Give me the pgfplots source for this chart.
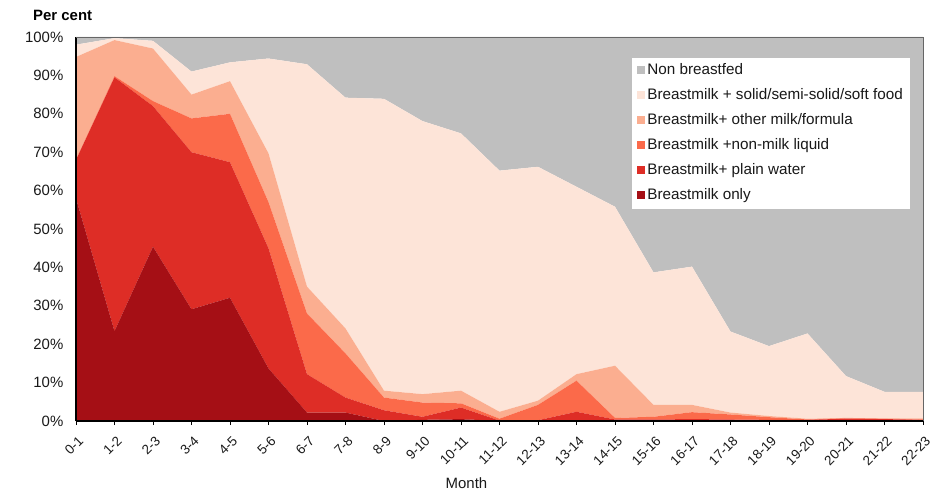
\documentclass[border=0pt]{standalone}
\usepackage{pgfplots}
\pgfplotsset{compat=1.18}
\usepackage{pgfplotstable}
\usepackage{fontspec}
\setmainfont{Liberation Sans}
\definecolor{cNB}{HTML}{BFBFBF}
\definecolor{cSolid}{HTML}{FDE4D8}
\definecolor{cOther}{HTML}{FBAE90}
\definecolor{cNon}{HTML}{FB6A4A}
\definecolor{cWater}{HTML}{DE2D26}
\definecolor{cOnly}{HTML}{A50F15}
\pgfplotstableread{
x o w n m s nb
0 58 10 0 26.8 3.2 2
1 23.4 66.1 0.3 9.4 0.5 0.3
2 45.4 36.6 1.3 13.7 2.0 1.0
3 29.1 40.9 8.8 6.2 6.0 9.0
4 32.1 35.3 12.6 8.5 4.9 6.6
5 13.7 31.3 12.0 12.7 24.7 5.6
6 2.2 10.0 15.8 7.0 57.9 7.1
7 2.2 3.9 11.5 6.5 60.1 15.8
8 0 2.8 3.3 1.8 76.0 16.1
9 0.3 0.8 3.7 2.2 71.1 21.9
10 0.5 3.0 1.1 3.3 67.0 25.1
11 0 0.1 0.5 1.8 62.8 34.8
12 0 0.2 4.0 1.1 60.9 33.8
13 0.2 2.2 8.1 1.7 48.8 39.0
14 0 0.4 0.4 13.6 41.4 44.2
15 0 0.4 0.7 3.1 34.5 61.3
16 0 0.5 1.8 1.9 36.0 59.8
17 0 0.4 1.3 0.5 21.1 76.7
18 0 0.3 0.7 0.3 18.2 80.5
19 0 0.3 0.1 0.2 22.2 77.2
20 0.1 0.5 0.1 0.1 10.9 88.3
21 0.1 0.4 0.1 0.1 6.9 92.4
22 0 0.3 0.1 0.3 6.9 92.4
}\datatable
\begin{document}
\begin{tikzpicture}
\path[use as bounding box] (-76bp,-70bp) rectangle (862bp,421bp);
\begin{axis}[
  at={(0,0)}, anchor=south west,
  scale only axis, width=847bp, height=384bp,
  xmin=0, xmax=22, ymin=0, ymax=100,
  stack plots=y,
  axis x line*=bottom, axis y line*=left,
  axis line style={black, line width=1.5bp, -},
  xtick={0,...,22},
  xticklabels={0-1,1-2,2-3,3-4,4-5,5-6,6-7,7-8,8-9,9-10,10-11,11-12,12-13,13-14,14-15,15-16,16-17,17-18,18-19,19-20,20-21,21-22,22-23},
  ytick={0,10,...,100},
  yticklabels={0\%,10\%,20\%,30\%,40\%,50\%,60\%,70\%,80\%,90\%,100\%},
  tick align=outside, major tick length=4bp,
  xtick style={black, line width=0.8bp},
  ytick style={draw=none},
  tick label style={font=\fontsize{15}{17}\selectfont, text=black!90},
  xticklabel style={font=\fontsize{13.5}{15}\selectfont, xshift=5bp, yshift=-13.5bp, rotate=45, anchor=east, inner sep=0pt},
  yticklabel style={anchor=east, inner sep=0pt, xshift=-8.5bp},
  xlabel={Month},
  xlabel style={font=\fontsize{15}{17}\selectfont, text=black!90, at={(axis description cs:0.461,0)}, anchor=center, yshift=-62bp},
  ylabel={Per cent},
  ylabel style={font=\fontsize{15}{17}\selectfont\bfseries, rotate=-90, at={(axis description cs:0,1)}, anchor=west, inner sep=0pt, xshift=-43bp, yshift=22bp},
  axis on top,
  reverse legend,
  legend image code/.code={\fill[#1] (0bp,-3bp) rectangle (8bp,5bp);},
  legend cell align=left,
  legend style={at={(rel axis cs:0.9847,0.9453)}, anchor=north east, draw=none, fill=white,
    font=\fontsize{15.3}{17}\selectfont, text=black!90,
    inner xsep=5bp, inner ysep=5.75bp, row sep=10.5bp,
    nodes={text height=11bp, text depth=3.5bp, inner ysep=0bp, inner xsep=2bp}},
]
\addplot[fill=cOnly, draw=none] table[x=x,y=o]{\datatable} \closedcycle;
\addlegendentry{Breastmilk only}
\addplot[fill=cWater, draw=none] table[x=x,y=w]{\datatable} \closedcycle;
\addlegendentry{Breastmilk+ plain water}
\addplot[fill=cNon, draw=none] table[x=x,y=n]{\datatable} \closedcycle;
\addlegendentry{Breastmilk +non-milk liquid}
\addplot[fill=cOther, draw=none] table[x=x,y=m]{\datatable} \closedcycle;
\addlegendentry{Breastmilk+ other milk/formula}
\addplot[fill=cSolid, draw=none] table[x=x,y=s]{\datatable} \closedcycle;
\addlegendentry{Breastmilk + solid/semi-solid/soft food}
\addplot[fill=cNB, draw=none] table[x=x,y=nb]{\datatable} \closedcycle;
\addlegendentry{Non breastfed}
\end{axis}
\draw[black!60, line width=0.8bp] (0bp,384bp) -- (847bp,384bp) -- (847bp,0bp);
\end{tikzpicture}
\end{document}
